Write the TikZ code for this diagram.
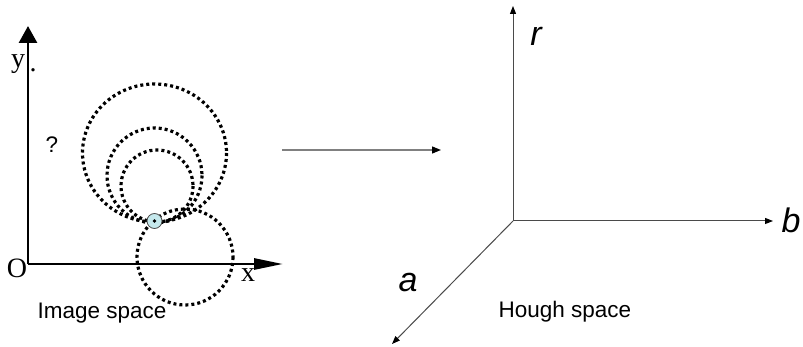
\documentclass[tikz,border=0pt]{standalone}
\usepackage{fontspec}
\setmainfont{Liberation Serif}
\setsansfont{Liberation Sans}
\usetikzlibrary{arrows.meta}
\definecolor{axgray}{HTML}{4A4A4A}
\definecolor{ptblue}{HTML}{C5E8EC}
\tikzset{
  bigaxis/.style={line width=2.8pt, black},
  dotcircle/.style={line width=3.2pt, dash pattern=on 3pt off 3pt, black},
  hax/.style={line width=1pt, axgray, -{Triangle[length=8pt,width=6pt,color=black]}},
  sanslab/.style={font=\sffamily\fontsize{22.5}{26}\selectfont, inner sep=0pt},
  itlab/.style={font=\sffamily\itshape\fontsize{34}{38}\selectfont, inner sep=0pt},
  serlab/.style={font=\rmfamily\fontsize{28}{32}\selectfont, inner sep=0pt},
}
\begin{document}
\begin{tikzpicture}[x=1pt,y=-1pt]
\useasboundingbox (0,0) rectangle (803,347);
% image space axes
\coordinate (O) at (28,264);
\coordinate (Ytip) at (28,26);
\coordinate (Xtip) at (283,264);
\draw[bigaxis, -{Triangle[length=17pt,width=18pt]}] (O) -- (Ytip);
\draw[bigaxis, -{Triangle[length=29pt,width=11pt]}] (O) -- (Xtip);
\node[serlab] (ylab) at (18,64) {y};
\node[serlab] (ydot) at (33,70) {.};
\node[serlab] (olab) at (17,268) {O};
\node[serlab] (xlab) at (248,275) {x};
\node[sanslab] (q) at (52,145) {?};
% circles
\draw[dotcircle] (154.5,153) ellipse [x radius=72, y radius=69];
\draw[dotcircle] (154.5,175.5) circle [radius=47.5];
\draw[dotcircle] (157,186) circle [radius=36];
\draw[dotcircle] (185,257) circle [radius=48];
\node[circle, draw=axgray, line width=0.8pt, fill=ptblue, minimum size=15pt, inner sep=0pt] (P) at (154.5,221) {};
\fill (P) circle [radius=1.8pt];
\node[sanslab] (imgspace) at (102,313) {Image space};
% mapping arrow
\coordinate (m1) at (282,150);
\coordinate (m2) at (441,150);
\draw[line width=1.3pt, gray, -{Triangle[length=9pt,width=7pt,color=black]}] (m1) -- (m2);
% Hough space axes
\coordinate (H) at (513,221);
\coordinate (Rtip) at (513,6);
\coordinate (Btip) at (773,221);
\coordinate (Atip) at (392,344);
\draw[hax] (H) -- (Rtip);
\draw[hax] (H) -- (Btip);
\draw[hax] (H) -- (Atip);
\node[itlab] (rlab) at (536,36) {r};
\node[itlab] (blab) at (791,220) {b};
\node[itlab] (alab) at (408,283) {a};
\node[sanslab] (hough) at (565,312) {Hough space};
\end{tikzpicture}
\end{document}
